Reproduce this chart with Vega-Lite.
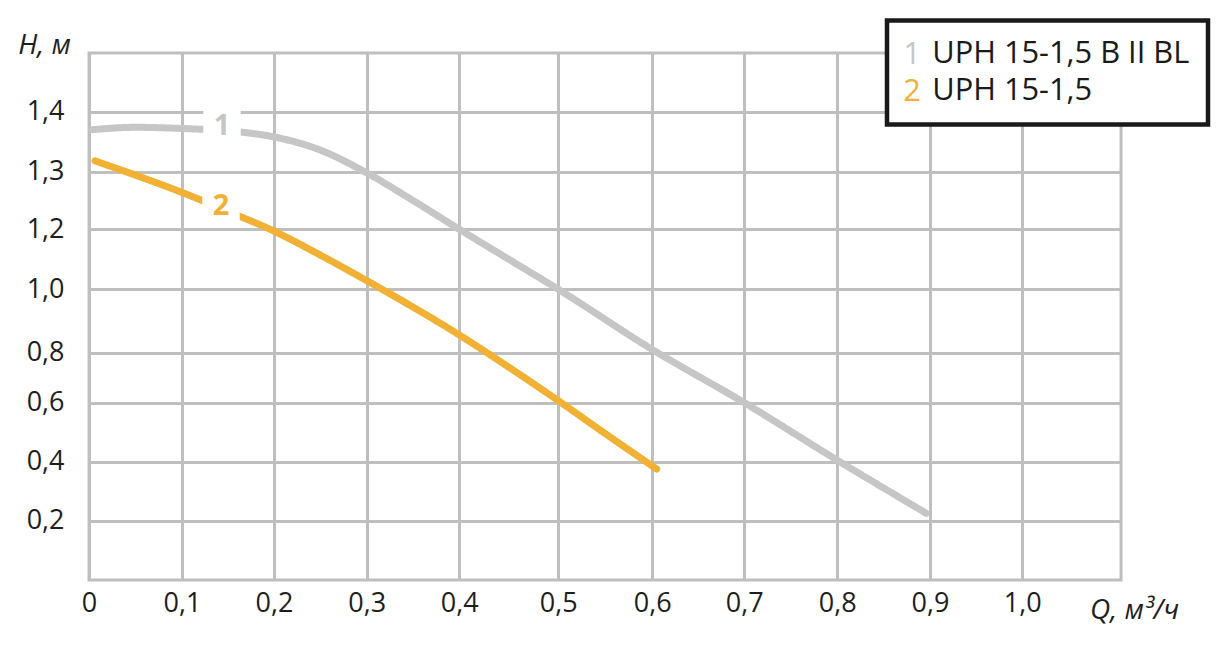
{
  "$schema": "https://vega.github.io/schema/vega-lite/v6.json",
  "width": 1032,
  "height": 527,
  "autosize": {"type": "none"},
  "padding": {"left": 89, "top": 53, "right": 107, "bottom": 71},
  "background": "white",
  "datasets": {
    "curves": [
      {"series": "1", "model": "UPH 15-1,5 B II BL", "Q": 0.004, "H": 1.37},
      {"series": "1", "model": "UPH 15-1,5 B II BL", "Q": 0.05, "H": 1.374},
      {"series": "1", "model": "UPH 15-1,5 B II BL", "Q": 0.1, "H": 1.372},
      {"series": "1", "model": "UPH 15-1,5 B II BL", "Q": 0.15, "H": 1.368},
      {"series": "1", "model": "UPH 15-1,5 B II BL", "Q": 0.2, "H": 1.358},
      {"series": "1", "model": "UPH 15-1,5 B II BL", "Q": 0.25, "H": 1.336},
      {"series": "1", "model": "UPH 15-1,5 B II BL", "Q": 0.3, "H": 1.298},
      {"series": "1", "model": "UPH 15-1,5 B II BL", "Q": 0.35, "H": 1.25},
      {"series": "1", "model": "UPH 15-1,5 B II BL", "Q": 0.4, "H": 1.2},
      {"series": "1", "model": "UPH 15-1,5 B II BL", "Q": 0.45, "H": 1.1},
      {"series": "1", "model": "UPH 15-1,5 B II BL", "Q": 0.5, "H": 1.0},
      {"series": "1", "model": "UPH 15-1,5 B II BL", "Q": 0.6, "H": 0.81},
      {"series": "1", "model": "UPH 15-1,5 B II BL", "Q": 0.7, "H": 0.6},
      {"series": "1", "model": "UPH 15-1,5 B II BL", "Q": 0.8, "H": 0.405},
      {"series": "1", "model": "UPH 15-1,5 B II BL", "Q": 0.896, "H": 0.225},
      {"series": "2", "model": "UPH 15-1,5", "Q": 0.0065, "H": 1.318},
      {"series": "2", "model": "UPH 15-1,5", "Q": 0.05, "H": 1.294},
      {"series": "2", "model": "UPH 15-1,5", "Q": 0.1, "H": 1.264},
      {"series": "2", "model": "UPH 15-1,5", "Q": 0.15, "H": 1.231},
      {"series": "2", "model": "UPH 15-1,5", "Q": 0.2, "H": 1.194},
      {"series": "2", "model": "UPH 15-1,5", "Q": 0.25, "H": 1.114},
      {"series": "2", "model": "UPH 15-1,5", "Q": 0.3, "H": 1.029},
      {"series": "2", "model": "UPH 15-1,5", "Q": 0.35, "H": 0.944},
      {"series": "2", "model": "UPH 15-1,5", "Q": 0.4, "H": 0.856},
      {"series": "2", "model": "UPH 15-1,5", "Q": 0.45, "H": 0.742},
      {"series": "2", "model": "UPH 15-1,5", "Q": 0.5, "H": 0.608},
      {"series": "2", "model": "UPH 15-1,5", "Q": 0.55, "H": 0.495},
      {"series": "2", "model": "UPH 15-1,5", "Q": 0.6048, "H": 0.375}
    ],
    "labels": [
      {"series": "1", "Q": 0.1435, "H": 1.376},
      {"series": "2", "Q": 0.1424, "H": 1.2405}
    ]
  },
  "layer": [
    {
      "data": {"name": "curves"},
      "mark": {"type": "line", "strokeWidth": 7, "strokeCap": "round", "strokeJoin": "round", "interpolate": "monotone"},
      "encoding": {
        "x": {
          "field": "Q", "type": "quantitative",
          "scale": {
            "domain": [0, 0.1, 0.2, 0.3, 0.4, 0.5, 0.6, 0.7, 0.8, 0.9, 1.0, 1.1],
            "range": [0, 93, 185, 277.7, 370.3, 469.3, 563.3, 655.3, 748.3, 841, 933.3, 1032],
            "nice": false, "zero": false
          },
          "axis": {
            "values": [0, 0.1, 0.2, 0.3, 0.4, 0.5, 0.6, 0.7, 0.8, 0.9, 1.0],
            "labelExpr": "datum.value == 0 ? '0' : replace(format(datum.value, '.1f'), '.', ',')",
            "labelBaseline": "alphabetic",
            "labelPadding": 31,
            "labelFlush": false,
            "labelOverlap": false,
            "title": "Q, м³/ч",
            "titleAngle": 0,
            "titleAlign": "center",
            "titleBaseline": "alphabetic",
            "titleX": 1045,
            "titleY": 38
          }
        },
        "y": {
          "field": "H", "type": "quantitative",
          "scale": {
            "domain": [0, 0.2, 0.4, 0.6, 0.8, 1.0, 1.2, 1.3, 1.4, 1.5],
            "range": [527, 467.7, 408.7, 349.7, 299.7, 236.3, 176.3, 118.7, 58.7, 0],
            "nice": false, "zero": false
          },
          "axis": {
            "values": [0.2, 0.4, 0.6, 0.8, 1.0, 1.2, 1.3, 1.4],
            "labelExpr": "replace(format(datum.value, '.1f'), '.', ',')",
            "labelPadding": 25,
            "labelOverlap": false,
            "title": "H, м",
            "titleAngle": 0,
            "titleAlign": "center",
            "titleBaseline": "alphabetic",
            "titleX": -45,
            "titleY": 0
          }
        },
        "color": {
          "field": "series", "type": "nominal",
          "scale": {"domain": ["1", "2"], "range": ["#c6c6c6", "#f0b135"]},
          "legend": {
            "orient": "none", "legendX": 798, "legendY": -31, "title": null,
            "padding": 18, "zindex": 2,
            "labelFont": "Open Sans", "labelFontSize": 30.8,
            "symbolSize": 0, "symbolOpacity": 0, "symbolStrokeWidth": 0,
            "labelOffset": -32.5, "rowPadding": 4.9,
            "encode": {"labels": {"update": {"fill": {"signal": "datum.value == '1' ? '#c6c6c6' : '#f0b135'"}}}}
          }
        },
        "strokeDash": {
          "field": "model", "type": "nominal",
          "scale": {"domain": ["UPH 15-1,5 B II BL", "UPH 15-1,5"], "range": [[1, 0], [1, 0]]},
          "legend": {
            "orient": "none", "legendX": 798, "legendY": -32.5, "title": null,
            "padding": 18, "zindex": 1,
            "strokeColor": "#1a1a1a", "fillColor": "white",
            "labelFont": "Open Sans", "labelFontSize": 30.8, "labelColor": "#1a1a1a",
            "labelLimit": 500,
            "symbolSize": 0, "symbolOpacity": 0, "symbolStrokeWidth": 0,
            "labelOffset": -3.6, "rowPadding": 4.9,
            "encode": {"legend": {"update": {"strokeWidth": {"value": 4.5}}}}
          }
        }
      }
    },
    {
      "data": {"name": "labels"},
      "mark": {"type": "point", "shape": "square", "filled": true, "color": "white", "opacity": 1, "size": 1400, "strokeWidth": 0},
      "encoding": {
        "x": {"field": "Q", "type": "quantitative"},
        "y": {"field": "H", "type": "quantitative"}
      }
    },
    {
      "data": {"name": "labels"},
      "mark": {"type": "text", "font": "Open Sans", "fontSize": 29, "fontWeight": "bold", "align": "center", "baseline": "middle"},
      "encoding": {
        "x": {"field": "Q", "type": "quantitative"},
        "y": {"field": "H", "type": "quantitative"},
        "text": {"field": "series"},
        "color": {"field": "series", "type": "nominal"}
      }
    }
  ],
  "config": {
    "font": "Open Sans",
    "view": {"stroke": "#bfbfbf", "strokeWidth": 3},
    "axis": {
      "grid": true,
      "gridColor": "#bfbfbf",
      "gridWidth": 3,
      "gridOpacity": 1,
      "domain": false,
      "ticks": false,
      "tickSize": 0,
      "labelFont": "Open Sans",
      "labelFontSize": 27,
      "labelColor": "#1e1e1e",
      "titleFont": "Open Sans",
      "titleFontStyle": "italic",
      "titleFontWeight": "normal",
      "titleFontSize": 28,
      "titleColor": "#1e1e1e"
    }
  }
}
